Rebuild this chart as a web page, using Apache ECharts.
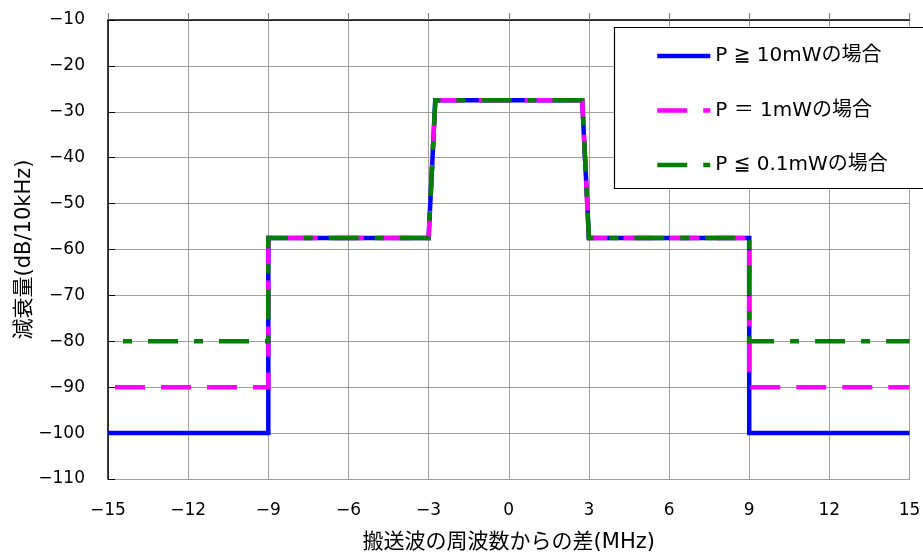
<!DOCTYPE html>
<html>
<head>
<meta charset="utf-8">
<script src="https://cdn.jsdelivr.net/npm/echarts@6/dist/echarts.min.js"></script>
<style>
html,body{margin:0;padding:0;background:#fff;}
#c{width:923px;height:554px;}
</style>
</head>
<body>
<div id="c"></div>
<script>
// ---- data ----
var seriesNames = ['P ≧ 10mWの場合', 'P ＝ 1mWの場合', 'P ≦ 0.1mWの場合'];
var xHigh = [[-15,-100],[-9,-100],[-9,-57.5],[-3,-57.5],[-2.75,-27.5],[2.75,-27.5],[3,-57.5],[9,-57.5],[9,-100],[15,-100]];
var xMid  = [[-15,-90],[-9,-90],[-9,-57.5],[-3,-57.5],[-2.75,-27.5],[2.75,-27.5],[3,-57.5],[9,-57.5],[9,-90],[15,-90]];
var xLow  = [[-15,-80],[-9,-80],[-9,-57.5],[-3,-57.5],[-2.75,-27.5],[2.75,-27.5],[3,-57.5],[9,-57.5],[9,-80],[15,-80]];
var xTickLabels = ['−15','−12','−9','−6','−3','0','3','6','9','12','15'];
var yTickLabels = ['−110','−100','−90','−80','−70','−60','−50','−40','−30','−20','−10'];
var xAxisTitle = '搬送波の周波数からの差(MHz)';
var yAxisTitle = '減衰量(dB/10kHz)';

var FONT = '"DejaVu Sans", "Noto Sans CJK JP", sans-serif';
var GRID = '#a0a0a0';

function xLab(v){ var i = Math.round((v + 15) / 3); return xTickLabels[i] !== undefined ? xTickLabels[i] : ''; }
function yLab(v){ var i = Math.round((v + 110) / 10); return yTickLabels[i] !== undefined ? yTickLabels[i] : ''; }

var chart = echarts.init(document.getElementById('c'), null, {renderer:'canvas'});
var LW = 4.5;
var styles = [
  {color:'#0000ff', type:'solid', dashOffset:0},
  {color:'#ff00ff', type:[30,16], dashOffset:39},
  {color:'#008000', type:[30,16,9,16], dashOffset:31}
];
var datas = [xHigh, xMid, xLow];

chart.setOption({
  animation:false,
  backgroundColor:'#fff',
  grid:{left:108, top:20, right:13.5, bottom:75, containLabel:false, outerBoundsMode:'none'},
  xAxis:[{
    type:'value', min:-15, max:15, interval:3, position:'bottom',
    name:xAxisTitle, nameLocation:'middle', nameGap:53, nameMoveOverlap:false,
    nameTextStyle:{fontFamily:FONT, fontSize:21, color:'#000'},
    axisLine:{show:true, onZero:false, lineStyle:{color:GRID, width:1}},
    axisTick:{show:false},
    axisLabel:{formatter:xLab, fontFamily:FONT, fontSize:17, color:'#000', margin:23},
    splitLine:{show:true, lineStyle:{color:GRID, width:1}}
  },{
    type:'value', min:-15, max:15, interval:3, position:'top',
    axisLine:{show:true, onZero:false, lineStyle:{color:'#000', width:1.5}},
    axisTick:{show:true, inside:false, length:7, lineStyle:{color:'#777', width:1}},
    axisLabel:{show:false},
    splitLine:{show:false}
  }],
  yAxis:[{
    type:'value', min:-110, max:-10, interval:10,
    name:yAxisTitle, nameLocation:'middle', nameGap:73, nameRotate:90, nameMoveOverlap:false,
    nameTextStyle:{fontFamily:FONT, fontSize:21, color:'#000'},
    axisLine:{show:true, onZero:false, lineStyle:{color:'#000', width:1.5}},
    axisTick:{show:true, inside:true, length:7, lineStyle:{color:'#000', width:1}},
    axisLabel:{formatter:yLab, fontFamily:FONT, fontSize:17, color:'#000', margin:23},
    splitLine:{show:true, lineStyle:{color:GRID, width:1}}
  }],
  legend:{
    orient:'vertical', left:655, top:46, padding:0,
    itemWidth:53, itemHeight:14, itemGap:34.5,
    textStyle:{fontFamily:FONT, fontSize:20, color:'#000', lineHeight:20},
    z:20,
    data:seriesNames.map(function(n,i){
      return {name:n, lineStyle:{color:styles[i].color, width:LW, type:styles[i].type, dashOffset:0}, itemStyle:{opacity:0}};
    })
  },
  graphic:[{
    type:'rect', z:15, silent:true,
    shape:{x:614.5, y:27.5, width:330, height:161},
    style:{fill:'#fff', stroke:'#000', lineWidth:1.2}
  }],
  series:datas.map(function(d,i){
    return {
      name:seriesNames[i], type:'line', data:d, symbol:'none', showSymbol:false,
      z:2+i,
      lineStyle:{color:styles[i].color, width:LW, type:styles[i].type, dashOffset:styles[i].dashOffset, cap:'butt', join:'miter'},
      itemStyle:{color:styles[i].color}
    };
  })
});
</script>
</body>
</html>
